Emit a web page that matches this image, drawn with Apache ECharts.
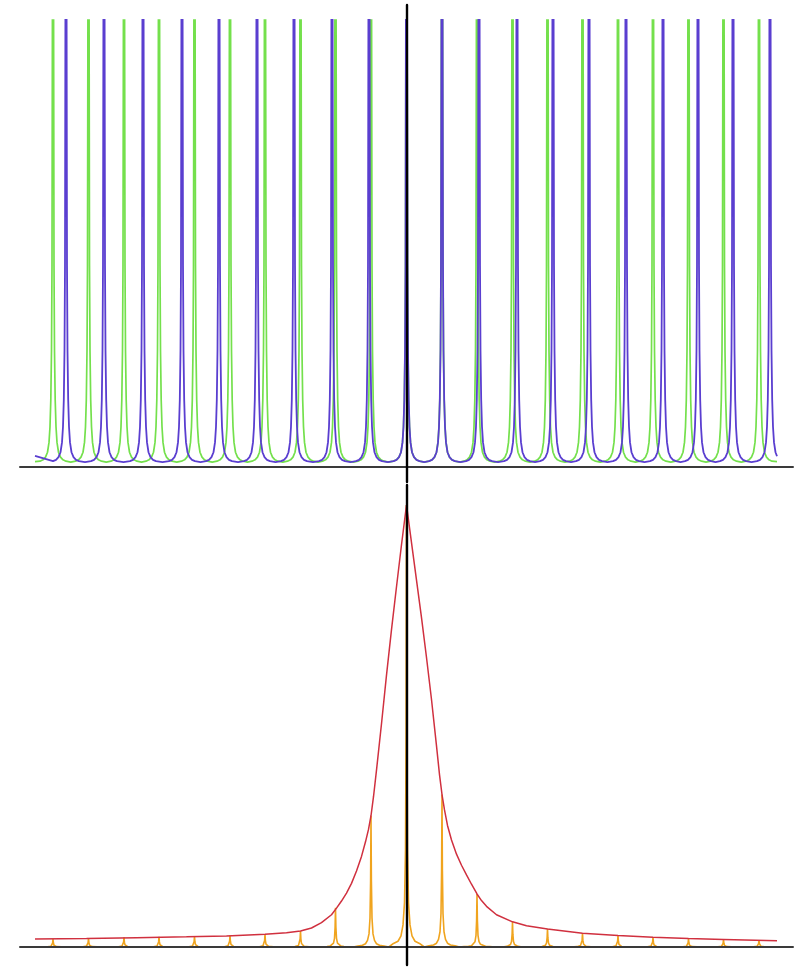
<!DOCTYPE html>
<html><head><meta charset="utf-8">
<script src="https://cdn.jsdelivr.net/npm/echarts/dist/echarts.min.js"></script>
<style>html,body{margin:0;padding:0;background:#fff}#c{width:808px;height:973px}</style>
</head><body><div id="c"></div>
<script>
// ---- data (x in units of 10 px from the centre line) ----
const xMin = -38.65, xMax = 38.65;

// top panel: peak positions of the two peak trains
const greenPeaks = [-35.35,-31.8,-28.25,-24.75,-21.2,-17.65,-14.15,-10.6,-7.1,-3.55,0,3.55,7.05,10.6,14.1,17.6,21.15,24.65,28.2,31.7,35.25];
const bluePeaks  = [-34.05,-30.25,-26.35,-22.45,-18.75,-14.95,-11.25,-7.45,-3.75,0,3.55,7.25,11.05,14.65,18.25,21.95,25.65,29.15,32.65,36.35];
// read shape of one peak: distance from peak centre -> height (100 = top of plot)
const peakOffsets = [0, 0.06, 0.10, 0.15, 0.22, 0.30, 0.40, 0.55, 0.75, 1.0, 1.3];
const peakHeights = [300, 100, 45, 26, 15, 9, 5.5, 3.3, 2.2, 1.6, 1.3];
const troughHeight = 1.1;
const greenEnds = [[-37.15, 1.2], [37.05, 1.2]];
const blueEnds  = [[-37.15, 2.5], [37.05, 2.4]];

// bottom panel: envelope curve (peak = 1)
const redCurve = [
  [-37.15,0.018],[-32,0.019],[-27,0.021],[-22,0.023],[-18,0.025],[-14.15,0.029],[-12,0.032],
  [-10.6,0.036],[-9.5,0.043],[-8.5,0.055],[-7.5,0.073],[-7.0,0.088],[-6.5,0.104],[-6.0,0.122],
  [-5.5,0.144],[-5.0,0.172],[-4.5,0.205],[-4.1,0.238],[-3.8,0.266],[-3.55,0.297],[-3.3,0.340],
  [-3.0,0.400],[-2.5,0.505],[-2.0,0.615],[-1.5,0.718],[-1.0,0.815],[-0.5,0.910],[0,1.0],
  [0.5,0.915],[1.0,0.830],[1.5,0.745],[2.0,0.655],[2.5,0.560],[3.0,0.455],[3.3,0.390],
  [3.55,0.345],[3.8,0.310],[4.1,0.275],[4.5,0.242],[5.0,0.210],[5.5,0.185],[6.0,0.163],
  [6.5,0.142],[7.05,0.120],[7.5,0.105],[8.0,0.092],[9.0,0.073],[10.6,0.057],[12,0.048],
  [14.1,0.041],[17.6,0.031],[21.15,0.026],[24.65,0.022],[28.2,0.019],[31.7,0.017],[37.05,0.014]
];
// sampled spikes (at the green positions) and their heights
const sampleX = greenPeaks;
const sampleHeights = [0.018,0.020,0.022,0.023,0.024,0.026,0.029,0.036,0.089,0.297,1.0,0.345,0.120,0.057,0.041,0.031,0.026,0.022,0.019,0.017,0.015];
const spikeOffsets = [0, 0.04, 0.10, 0.20, 0.35, 0.55, 0.85, 1.3];
const spikeShape   = [1, 0.5, 0.22, 0.10, 0.05, 0.025, 0.013, 0.008];
const spikeEnds = [[-37.15, 0], [37.05, 0]];

// ---- assemble peak trains from positions + read shape ----
function train(peaks, offs, shape, trough, ends, amps) {
  const pts = [ends[0]];
  for (let i = 0; i < peaks.length; i++) {
    const p = peaks[i], a = amps ? amps[i] : 1;
    const lo = i === 0 ? ends[0][0] : (peaks[i-1] + p) / 2;
    const hi = i === peaks.length - 1 ? ends[1][0] : (p + peaks[i+1]) / 2;
    if (i > 0) pts.push([lo, trough]);
    for (let k = offs.length - 1; k > 0; k--) if (p - offs[k] > lo) pts.push([p - offs[k], shape[k] * a]);
    pts.push([p, shape[0] * a]);
    for (let k = 1; k < offs.length; k++) if (p + offs[k] < hi) pts.push([p + offs[k], shape[k] * a]);
  }
  pts.push(ends[1]);
  return pts;
}

const greenData = train(greenPeaks, peakOffsets, peakHeights, troughHeight, greenEnds);
const blueData  = train(bluePeaks, peakOffsets, peakHeights, troughHeight, blueEnds);
const spikeData = train(sampleX, spikeOffsets, spikeShape, 0, spikeEnds, sampleHeights);

const hidden = {axisLine:{show:false},axisTick:{show:false},axisLabel:{show:false},splitLine:{show:false}};
function ax(extra){ return Object.assign({type:'value',axisTick:{show:false},axisLabel:{show:false},splitLine:{show:false}}, extra); }

const chart = echarts.init(document.getElementById('c'), null, {renderer:'canvas'});
chart.setOption({
  animation:false,
  backgroundColor:'#fff',
  grid:[
    {left:20, right:15, top:20, height:447},
    {left:20, right:15, top:5, height:477},
    {left:20, right:15, top:485, height:480}
  ],
  xAxis:[
    Object.assign({type:'value',gridIndex:0,min:xMin,max:xMax}, hidden),
    ax({gridIndex:1,min:xMin,max:xMax,z:10,axisLine:{show:true,onZero:true,lineStyle:{color:'#3a3a3a',width:2}}}),
    ax({gridIndex:2,min:xMin,max:xMax,z:10,axisLine:{show:true,onZero:true,lineStyle:{color:'#3a3a3a',width:2}}})
  ],
  yAxis:[
    Object.assign({type:'value',gridIndex:0,min:0,max:100}, hidden),
    ax({gridIndex:1,min:-3.356,max:103.36,z:11,axisLine:{show:true,onZero:true,lineStyle:{color:'#000',width:2.4}}}),
    ax({gridIndex:2,min:-0.0407,max:1.0452,z:11,axisLine:{show:true,onZero:true,lineStyle:{color:'#000',width:2.4}}})
  ],
  series:[
    {type:'line',xAxisIndex:0,yAxisIndex:0,data:greenData,showSymbol:false,clip:true,
     lineStyle:{color:'#74e04c',width:1.7}},
    {type:'line',xAxisIndex:0,yAxisIndex:0,data:blueData,showSymbol:false,clip:true,
     lineStyle:{color:'#5a3ed0',width:1.8}},
    {type:'line',xAxisIndex:2,yAxisIndex:2,data:spikeData,showSymbol:false,clip:true,
     lineStyle:{color:'#f0a41e',width:1.6}},
    {type:'line',xAxisIndex:2,yAxisIndex:2,data:redCurve,showSymbol:false,clip:true,
     lineStyle:{color:'#d0303f',width:1.5}}
  ]
});
</script></body></html>
